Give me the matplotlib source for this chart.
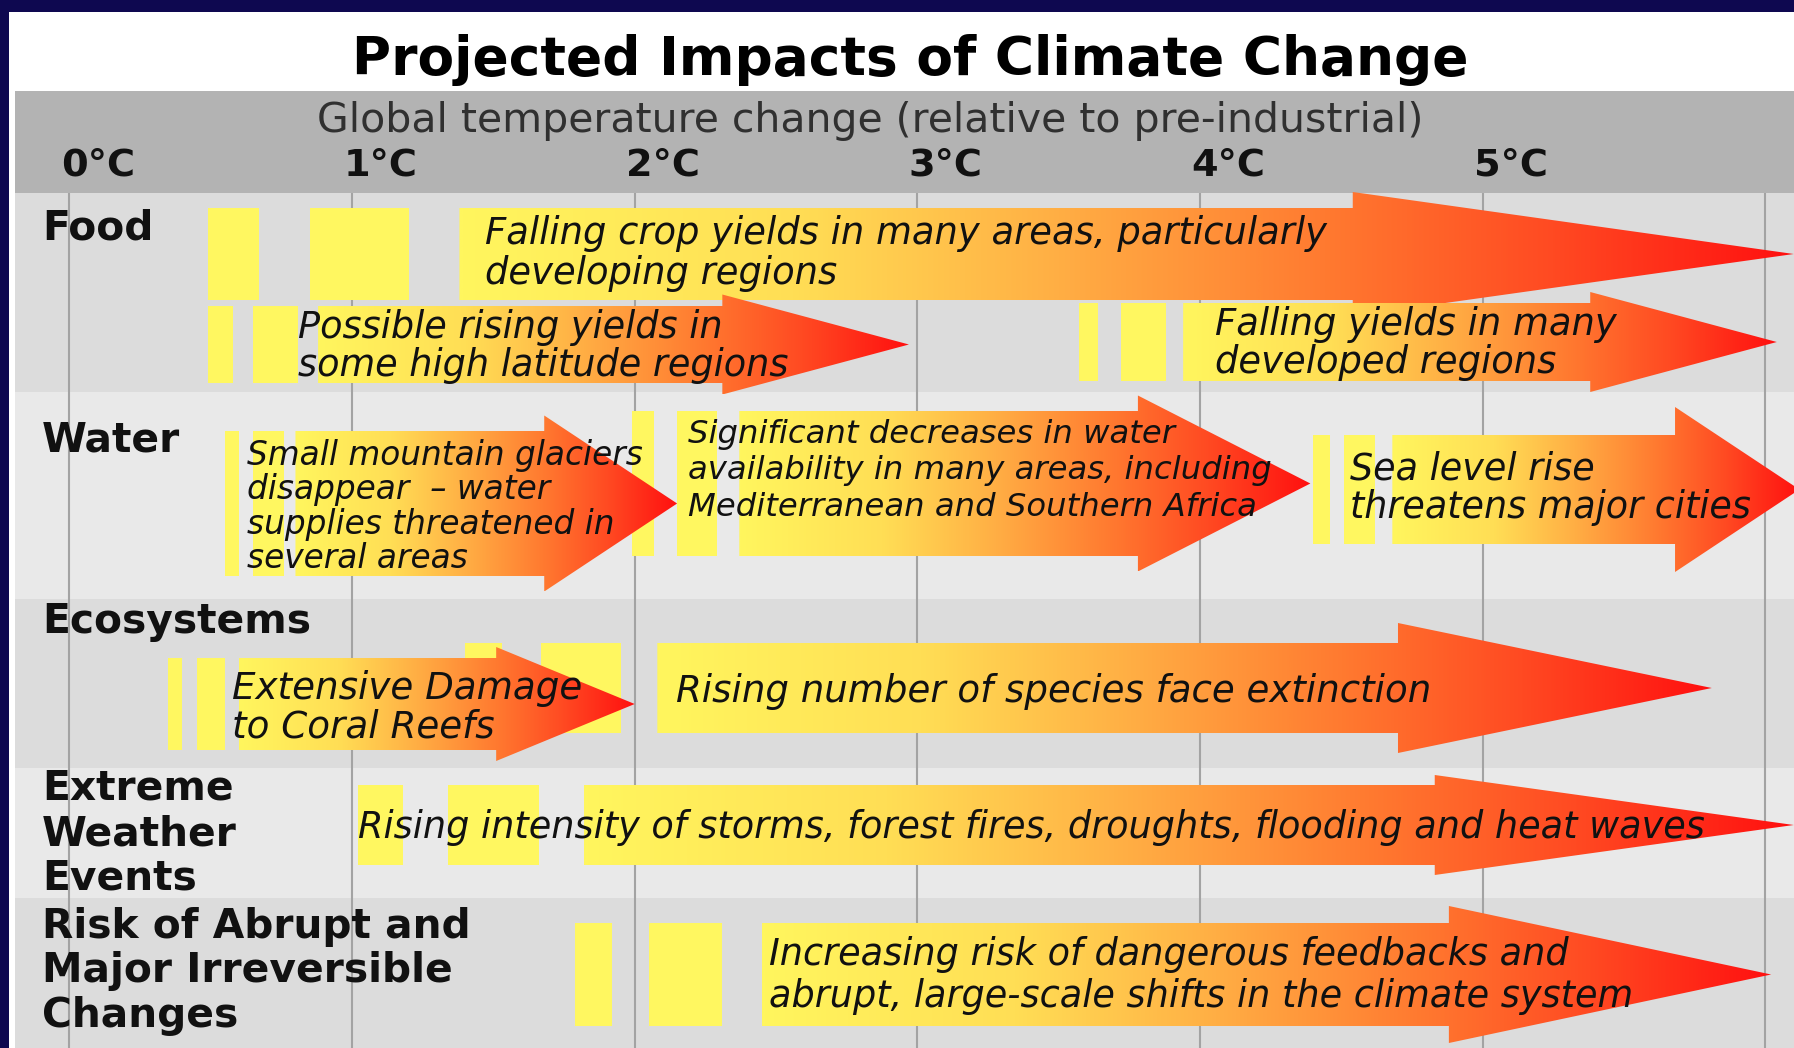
import numpy as np
import matplotlib
matplotlib.use("Agg")
import matplotlib.pyplot as plt
from matplotlib.patches import Polygon, Rectangle
from matplotlib.colors import LinearSegmentedColormap

# ---------------------------------------------------------------- data
TITLE = "Projected Impacts of Climate Change"
AXIS_TITLE = "Global temperature change (relative to pre-industrial)"

tick_temps = [0, 1, 2, 3, 4, 5]
tick_labels = ["0°C", "1°C", "2°C", "3°C", "4°C", "5°C"]
grid_temps = [0, 1, 2, 3, 4, 5, 6]

sectors = ["Food", "Water", "Ecosystems",
           "Extreme\nWeather\nEvents",
           "Risk of Abrupt and\nMajor Irreversible\nChanges"]

impact_texts = [
    "Falling crop yields in many areas, particularly\ndeveloping regions",
    "Possible rising yields in\nsome high latitude regions",
    "Falling yields in many\ndeveloped regions",
    "Small mountain glaciers\ndisappear  \u2013 water\nsupplies threatened in\nseveral areas",
    "Significant decreases in water\navailability in many areas, including\nMediterranean and Southern Africa",
    "Sea level rise\nthreatens major cities",
    "Extensive Damage\nto Coral Reefs",
    "Rising number of species face extinction",
    "Rising intensity of storms, forest fires, droughts, flooding and heat waves",
    "Increasing risk of dangerous feedbacks and\nabrupt, large-scale shifts in the climate system",
]

# warming (°C) where each arrow body begins, where its head begins, and its tip
arrow_start = [1.38, 0.88, 3.94, 0.80, 2.37, 4.68, 0.60, 2.08, 1.82, 2.45]
arrow_head = [4.54, 2.31, 5.38, 1.68, 3.78, 5.68, 1.51, 4.70, 4.83, 4.88]
arrow_tip = [6.10, 2.97, 6.04, 2.15, 4.39, 6.12, 2.00, 5.81, 6.10, 6.02]

# two onset blocks in front of each arrow (°C)
onset1_lo = [0.49, 0.49, 3.57, 0.55, 1.99, 4.40, 0.35, 1.40, 1.02, 1.79]
onset1_hi = [0.67, 0.58, 3.64, 0.60, 2.07, 4.46, 0.40, 1.53, 1.18, 1.92]
onset2_lo = [0.85, 0.65, 3.72, 0.65, 2.15, 4.51, 0.45, 1.67, 1.34, 2.05]
onset2_hi = [1.20, 0.81, 3.88, 0.76, 2.29, 4.62, 0.55, 1.95, 1.66, 2.31]

# ---------------------------------------------------------------- layout
W, H = 1794, 1048
X0_PX, DEG_PX = 69.3, 282.7          # pixel of 0 °C and pixels per °C


def px_to_deg(p):
    return (p - X0_PX) / DEG_PX


# vertical bands (pixels from top)
header_band = (91, 193)
row_edges = [193, 392, 599, 768, 898, 1048]
row_colors = ["#dcdcdc", "#e9e9e9", "#dcdcdc", "#e9e9e9", "#dcdcdc"]
label_baselines = [[240], [452], [633], [800, 845, 890], [938, 982, 1027]]

# arrow lanes: centre line, half body height, half head height
lane_y = [254, 344.5, 342, 503.5, 483.5, 489.5, 704, 688, 825, 974.5]
body_h = [46, 38.5, 39, 72.5, 72.5, 54.5, 46, 45, 40, 51.5]
head_h = [62, 50, 50, 88, 88, 82.5, 57, 65, 50, 68.5]

# caption placement inside the arrows
text_x = [1.47, 0.809, 4.053, 0.629, 2.188, 4.53, 0.576, 2.146, 1.021, 2.475]
text_base = [244, 338, 335, 465, 443, 479, 699, 702, 838, 965]
text_step = [40, 38, 38, 34.5, 36.5, 39, 39, 0, 0, 42]
text_size = [26.6, 26.4, 26.6, 23.6, 23.2, 26.3, 26.8, 26.7, 26.4, 26.4]

NAVY = "#0e0850"
HEADER = "#b3b3b3"
YELLOW = "#fff760"
GRID = "#a3a3a3"
INK = "#111111"

heat = LinearSegmentedColormap.from_list(
    "heat",
    [(0.0, "#fff65e"), (0.25, "#ffde55"), (0.45, "#ffae44"),
     (0.65, "#ff7a30"), (0.82, "#ff4a22"), (1.0, "#ff1010")])

plt.rcParams["font.family"] = ["DejaVu Sans"]

fig = plt.figure(figsize=(W / 100, H / 100), dpi=100)
fig.patch.set_facecolor(NAVY)
fig.add_artist(Rectangle((9 / W, 0), 1, 1 - 12 / H, transform=fig.transFigure,
                         facecolor="white", edgecolor="none", zorder=-10))

ax = fig.add_axes([0, 0, 1, 1])
ax.axis("off")
band = ax.get_yaxis_transform()
left = 15 / W

# header and sector bands
ax.add_patch(Rectangle((left, header_band[0]), 1, header_band[1] - header_band[0],
                       transform=band, facecolor=HEADER, edgecolor="none", zorder=0))
for k, color in enumerate(row_colors):
    ax.add_patch(Rectangle((left, row_edges[k]), 1, row_edges[k + 1] - row_edges[k],
                           transform=band, facecolor=color, edgecolor="none", zorder=0))

# temperature grid
ax.vlines(grid_temps, row_edges[0], row_edges[-1], color=GRID, lw=1.5, zorder=1)

# onset blocks
for i in range(len(impact_texts)):
    y0 = lane_y[i] - body_h[i]
    for lo, hi in ((onset1_lo[i], onset1_hi[i]), (onset2_lo[i], onset2_hi[i])):
        ax.add_patch(Rectangle((lo, y0), hi - lo, 2 * body_h[i],
                               facecolor=YELLOW, edgecolor="none", zorder=2))

# gradient arrows
grad = np.linspace(0, 1, 512).reshape(1, -1)
for i in range(len(impact_texts)):
    x0, xh, xt = arrow_start[i], arrow_head[i], arrow_tip[i]
    yc, bh, hh = lane_y[i], body_h[i], head_h[i]
    verts = [(x0, yc - bh), (xh, yc - bh), (xh, yc - hh), (xt, yc),
             (xh, yc + hh), (xh, yc + bh), (x0, yc + bh)]
    shape = Polygon(verts, closed=True, facecolor="none", edgecolor="none",
                    transform=ax.transData, zorder=3 + 0.01 * i)
    ax.add_patch(shape)
    im = ax.imshow(grad, cmap=heat, aspect="auto", interpolation="bilinear",
                   extent=(x0, xt, yc + hh, yc - hh), zorder=3 + 0.01 * i)
    im.set_clip_path(shape)

# arrow captions
for i, txt in enumerate(impact_texts):
    for j, line in enumerate(txt.split("\n")):
        ax.text(text_x[i], text_base[i] + j * text_step[i], line,
                fontsize=text_size[i], style="italic", color=INK,
                ha="left", va="baseline", zorder=6)

# sector labels
label_x = px_to_deg(42)
for k, name in enumerate(sectors):
    for j, line in enumerate(name.split("\n")):
        ax.text(label_x, label_baselines[k][j], line, fontsize=29.3,
                fontweight="bold", color=INK, ha="left", va="baseline", zorder=6)

# header texts
for t, lab in zip(tick_temps, tick_labels):
    ax.text(t - 0.03, 176, lab, fontsize=27.5, fontweight="bold", color=INK,
            ha="left", va="baseline", zorder=6)
ax.text(px_to_deg(870), 132, AXIS_TITLE, fontsize=29.5, color="#303030",
        ha="center", va="baseline", zorder=6)
ax.text(px_to_deg(910), 75, TITLE, fontsize=38.4, fontweight="bold", color="black",
        ha="center", va="baseline", zorder=6)

ax.set_xlim(px_to_deg(0), px_to_deg(W))
ax.set_ylim(H, 0)

fig.savefig("out.png", dpi=100, facecolor=fig.get_facecolor())
